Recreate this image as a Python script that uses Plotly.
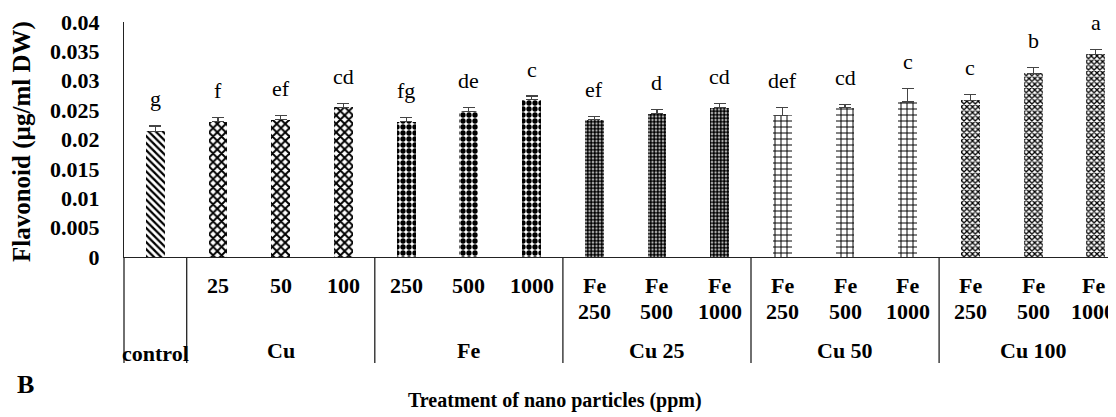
import plotly.graph_objects as go

# ---------------- data ----------------
groups = ["control", "Cu", "Cu", "Cu", "Fe", "Fe", "Fe",
          "Cu 25", "Cu 25", "Cu 25", "Cu 50", "Cu 50", "Cu 50",
          "Cu 100", "Cu 100", "Cu 100"]
sub_labels = ["", "25", "50", "100", "250", "500", "1000",
              "Fe<br>250", "Fe<br>500", "Fe<br>1000",
              "Fe<br>250", "Fe<br>500", "Fe<br>1000",
              "Fe<br>250", "Fe<br>500", "Fe<br>1000"]
flavonoid = [0.0214, 0.0230, 0.0234, 0.0255, 0.0230, 0.0248, 0.0268,
             0.0234, 0.0244, 0.0254, 0.0241, 0.0254, 0.0264,
             0.0267, 0.0313, 0.0345]
errors = [0.0009, 0.0007, 0.0007, 0.0006, 0.0007, 0.0006, 0.0006,
          0.0005, 0.0007, 0.0007, 0.0014, 0.0005, 0.0023,
          0.0009, 0.0010, 0.0008]
letters = ["g", "f", "ef", "cd", "fg", "de", "c", "ef", "d", "cd",
           "def", "cd", "c", "c", "b", "a"]
y_tick_vals = [0, 0.005, 0.01, 0.015, 0.02, 0.025, 0.03, 0.035, 0.04]
y_tick_text = ["0", "0.005", "0.01", "0.015", "0.02", "0.025", "0.03", "0.035", "0.04"]

# ---------------- styles ----------------
OFF = 8                      # page body margin
PAGE_W, PAGE_H = 1116, 417
W, H = PAGE_W - OFF, PAGE_H - OFF
PL_PAGE, PT_PAGE = 124, 22   # plot area top-left in page pixels
PL, PT = PL_PAGE - OFF, PT_PAGE - OFF
PW, PH = PAGE_W - PL_PAGE, 235
CAT_PX = 62.7
SERIF = "Liberation Serif"
LABEL_SIZE = 22

pattern_style = {
    "control": dict(shape="\\", size=5, solidity=0.45),
    "Cu": dict(shape="x", size=6, solidity=0.55),
    "Fe": dict(shape=".", size=6, solidity=0.62),
    "Cu 25": dict(shape=".", size=3.5, solidity=0.75),
    "Cu 50": dict(shape="+", size=6, solidity=0.3),
    "Cu 100": dict(shape="x", size=4, solidity=0.55),
}

n = len(flavonoid)
xs = list(range(n))
x0 = -0.5
x1 = x0 + PW / CAT_PX


def xpaper(xv):
    return (xv - x0) / (x1 - x0)


def px_to_paper_x(px):
    return (px - PL_PAGE) / PW


def px_to_paper_y(py):
    return (PT_PAGE + PH - py) / PH


fig = go.Figure()
fig.add_trace(go.Bar(
    x=xs, y=flavonoid, width=0.3,
    marker=dict(
        color="white",
        line=dict(width=0),
        pattern=dict(
            shape=[pattern_style[g]["shape"] for g in groups],
            size=[pattern_style[g]["size"] for g in groups],
            solidity=[pattern_style[g]["solidity"] for g in groups],
            fgcolor="black", bgcolor="white", fillmode="replace",
        ),
    ),
    error_y=dict(type="data", array=errors, symmetric=False,
                 arrayminus=[0] * n, color="#444", thickness=1.2, width=6),
    showlegend=False,
))

annotations = []
# significance letters
for xv, v, e, t in zip(xs, flavonoid, errors, letters):
    annotations.append(dict(x=xv, y=v + e, xref="x", yref="y", text=t,
                            showarrow=False, yanchor="middle", yshift=27,
                            font=dict(family=SERIF, size=22, color="black")))

# first-row labels (keep the rightmost column inside the page)
AXIS_Y = PT_PAGE + PH
for xv, lab in zip(xs, sub_labels):
    if not lab:
        continue
    lines = lab.split("<br>")
    est_half = max(len(s) for s in lines) * LABEL_SIZE * 0.25
    right_px = PL_PAGE + (xv - x0) * CAT_PX + est_half
    xshift = min(0, PAGE_W - 1 - right_px)
    for i, line in enumerate(lines):
        cy = 285 + 26 * i
        annotations.append(dict(x=xv, y=0, xref="x", yref="paper", text=line,
                                showarrow=False, yanchor="middle",
                                yshift=-(cy - AXIS_Y), xshift=xshift,
                                font=dict(family=SERIF, size=LABEL_SIZE, color="black",
                                          weight="bold")))

# group labels and separators
group_order = []
for g in groups:
    if g not in group_order:
        group_order.append(g)
shapes = []
bounds = []
for g in group_order:
    idx = [i for i, gg in enumerate(groups) if gg == g]
    lo = idx[0] - 0.5
    bounds.append(lo)
    cx = (idx[0] + idx[-1]) / 2
    cy = 353 if g == "control" else 350
    annotations.append(dict(x=cx, y=0, xref="x", yref="paper", text=g,
                            showarrow=False, yanchor="middle",
                            yshift=-(cy - AXIS_Y),
                            font=dict(family=SERIF, size=LABEL_SIZE, color="black",
                                      weight="bold")))
bounds.append(n - 0.5)
for b in bounds:
    xp = xpaper(b)
    if xp > 1.0:
        continue
    shapes.append(dict(type="line", xref="paper", yref="paper",
                       x0=xp, x1=xp, y0=0, y1=px_to_paper_y(363),
                       line=dict(color="#222", width=1.3)))

# titles
annotations.append(dict(x=px_to_paper_x(22), y=px_to_paper_y(142), xref="paper",
                        yref="paper", text="Flavonoid (µg/ml DW)", textangle=-90,
                        showarrow=False, xanchor="center", yanchor="middle",
                        font=dict(family=SERIF, size=25, color="black", weight="bold")))
annotations.append(dict(x=px_to_paper_x(555), y=px_to_paper_y(400), xref="paper",
                        yref="paper", text="Treatment of nano particles (ppm)",
                        showarrow=False, xanchor="center", yanchor="middle",
                        font=dict(family=SERIF, size=20, color="black", weight="bold")))
annotations.append(dict(x=px_to_paper_x(25), y=px_to_paper_y(384), xref="paper",
                        yref="paper", text="B",
                        showarrow=False, xanchor="center", yanchor="middle",
                        font=dict(family=SERIF, size=26, color="black", weight="bold")))

fig.update_layout(
    width=W, height=H,
    margin=dict(l=PL, r=W - PL - PW, t=PT, b=H - PT - PH, pad=0),
    paper_bgcolor="white", plot_bgcolor="white",
    xaxis=dict(range=[x0, x1], showticklabels=False, ticks="", showgrid=False,
               zeroline=False, showline=True, linecolor="#222", linewidth=1.3),
    yaxis=dict(range=[0, 0.04], tickvals=y_tick_vals, ticktext=y_tick_text,
               ticks="", showgrid=False, zeroline=False, showline=True,
               linecolor="#222", linewidth=1.3, ticklabelstandoff=19,
               tickfont=dict(family=SERIF, size=22, color="black", weight="bold")),
    annotations=annotations,
    shapes=shapes,
    bargap=0,
)

fig.write_html("out.html")
